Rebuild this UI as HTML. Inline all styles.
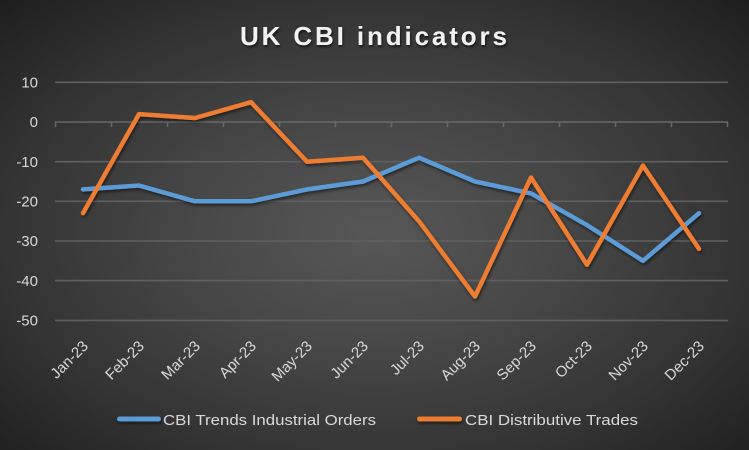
<!DOCTYPE html>
<html><head><meta charset="utf-8"><style>
html,body{margin:0;padding:0;background:#1f1f1f;}
#c{width:749px;height:450px;position:relative;overflow:hidden;
background:radial-gradient(ellipse farthest-corner at 50% 52%, #575757 0%, #474747 35%, #333333 70%, #1e1e1e 100%);}
svg{position:absolute;left:0;top:0;}
text{font-family:"Liberation Sans",sans-serif;fill:#d9d9d9;}
</style></head><body><div id="c">
<svg width="749" height="450" viewBox="0 0 749 450" xmlns="http://www.w3.org/2000/svg">
<defs>
<filter id="sh" filterUnits="userSpaceOnUse" x="0" y="0" width="749" height="450">
<feDropShadow dx="1" dy="2" stdDeviation="1.5" flood-color="#000" flood-opacity="0.55"/>
</filter>
<filter id="tsh" filterUnits="userSpaceOnUse" x="0" y="0" width="749" height="450">
<feDropShadow dx="1" dy="2" stdDeviation="1.2" flood-color="#000" flood-opacity="0.6"/>
</filter>
</defs>
<text x="240" y="45" font-size="26" font-weight="bold" textLength="267" lengthAdjust="spacing" filter="url(#tsh)" style="fill:#f2f2f2">UK CBI indicators</text>
<g stroke="#606060" stroke-width="1.6">
<line x1="55" x2="728" y1="82.3" y2="82.3"/>
<line x1="55" x2="728" y1="161.7" y2="161.7"/>
<line x1="55" x2="728" y1="201.3" y2="201.3"/>
<line x1="55" x2="728" y1="241" y2="241"/>
<line x1="55" x2="728" y1="280.6" y2="280.6"/>
<line x1="55" x2="728" y1="320.4" y2="320.4"/>
</g>
<g stroke="#686868" stroke-width="1.6">
<line x1="55" x2="728" y1="122" y2="122"/>
<line x1="55.5" x2="55.5" y1="122" y2="127"/>
<line x1="111.5" x2="111.5" y1="122" y2="127"/>
<line x1="167.5" x2="167.5" y1="122" y2="127"/>
<line x1="223.5" x2="223.5" y1="122" y2="127"/>
<line x1="279.5" x2="279.5" y1="122" y2="127"/>
<line x1="335.5" x2="335.5" y1="122" y2="127"/>
<line x1="391.5" x2="391.5" y1="122" y2="127"/>
<line x1="447.5" x2="447.5" y1="122" y2="127"/>
<line x1="503.5" x2="503.5" y1="122" y2="127"/>
<line x1="559.5" x2="559.5" y1="122" y2="127"/>
<line x1="615.5" x2="615.5" y1="122" y2="127"/>
<line x1="671.5" x2="671.5" y1="122" y2="127"/>
<line x1="727.5" x2="727.5" y1="122" y2="127"/>
</g>
<g font-size="15" text-anchor="end">
<text x="38" y="87.5">10</text>
<text x="38" y="127.2">0</text>
<text x="38" y="166.9">-10</text>
<text x="38" y="206.5">-20</text>
<text x="38" y="246.2">-30</text>
<text x="38" y="285.8">-40</text>
<text x="38" y="325.5">-50</text>
</g>
<g font-size="15" text-anchor="end">
<text transform="translate(89,347) rotate(-45)">Jan-23</text>
<text transform="translate(145,347) rotate(-45)">Feb-23</text>
<text transform="translate(201,347) rotate(-45)">Mar-23</text>
<text transform="translate(257,347) rotate(-45)">Apr-23</text>
<text transform="translate(313,347) rotate(-45)">May-23</text>
<text transform="translate(369,347) rotate(-45)">Jun-23</text>
<text transform="translate(425,347) rotate(-45)">Jul-23</text>
<text transform="translate(481,347) rotate(-45)">Aug-23</text>
<text transform="translate(537,347) rotate(-45)">Sep-23</text>
<text transform="translate(593,347) rotate(-45)">Oct-23</text>
<text transform="translate(649,347) rotate(-45)">Nov-23</text>
<text transform="translate(705,347) rotate(-45)">Dec-23</text>
</g>
<g fill="none" stroke-width="4.5" stroke-linejoin="round" stroke-linecap="round" filter="url(#sh)">
<polyline stroke="#5B9BD5" points="83,189.4 139,185.5 195,201.3 251,201.3 307,189.4 363,181.5 419,157.7 475,181.5 531,193.4 587,225.1 643,260.8 699,213.2"/>
<polyline stroke="#ED7D31" points="83,213.2 139,114.1 195,118 251,102.2 307,161.7 363,157.7 419,221.2 475,296.5 531,177.5 587,264.8 643,165.6 699,248.9"/>
</g>
<g filter="url(#sh)">
<rect x="117" y="416.5" width="44" height="5" rx="2.5" fill="#5B9BD5"/>
<rect x="417" y="416.5" width="45" height="5" rx="2.5" fill="#ED7D31"/>
</g>
<g font-size="15">
<text x="163" y="425" textLength="213" lengthAdjust="spacingAndGlyphs">CBI Trends Industrial Orders</text>
<text x="465" y="425" textLength="173" lengthAdjust="spacingAndGlyphs">CBI Distributive Trades</text>
</g>
</svg>
</div></body></html>
